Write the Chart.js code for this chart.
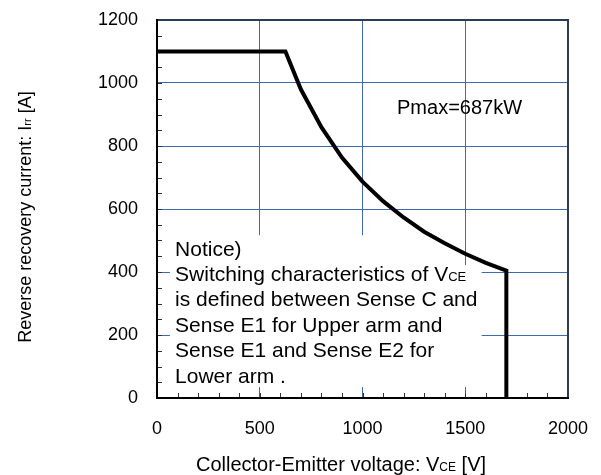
<!DOCTYPE html>
<html>
<head>
<meta charset="utf-8">
<script src="https://cdn.jsdelivr.net/npm/chart.js@4.4.1/dist/chart.umd.min.js"></script>
<style>
  html, body { margin: 0; padding: 0; background: #fff; }
  #wrap { width: 601px; height: 475px; }
</style>
</head>
<body>
<div id="wrap"><canvas id="soaChart"></canvas></div>
<script>
// RRSOA curve
const voltage = [0, 625, 700, 800, 900, 1000, 1100, 1200, 1300, 1400, 1500, 1600, 1700, 1700];
const current = [1100, 1100, 980, 860, 763, 687, 625, 573, 528, 491, 458, 429, 404, 0];

const xTicks = [0, 500, 1000, 1500, 2000];
const yTicks = [0, 200, 400, 600, 800, 1000, 1200];

const pmaxLabel = 'Pmax=687kW';
// each line is a list of [text, isSubscript]
const noticeLines = [
    [['Notice)', false]],
    [['Switching characteristics of V', false], ['CE', true]],
    [['is defined between Sense C and', false]],
    [['Sense E1 for Upper arm and', false]],
    [['Sense E1 and Sense E2 for', false]],
    [['Lower arm .', false]]
];
const xTitle = [['Collector-Emitter voltage: V', false], ['CE', true], [' [V]', false]];
const yTitle = [['Reverse recovery current: I', false], ['rr', true], [' [A]', false]];

const FONT = "'Liberation Sans', Arial, sans-serif";
const GRID_BLUE = '#4169b0';

function drawRich(ctx, parts, x, y, size, align) {
    // draws text with small subscript parts, y is the baseline
    var subSize = Math.round(size * 0.62);
    var widths = parts.map(function(p) {
        ctx.font = (p[1] ? subSize : size) + 'px ' + FONT;
        return ctx.measureText(p[0]).width;
    });
    var total = widths.reduce(function(a, b) { return a + b; }, 0);
    var cx = align === 'center' ? x - total / 2 : x;
    ctx.textBaseline = 'alphabetic';
    ctx.textAlign = 'left';
    parts.forEach(function(p, i) {
        ctx.font = (p[1] ? subSize : size) + 'px ' + FONT;
        ctx.fillText(p[0], cx, y);
        cx += widths[i];
    });
}

const decorPlugin = {
    id: 'decor',
    beforeDatasetsDraw(chart) {
        const ctx = chart.ctx;
        const xs = chart.scales.x, ys = chart.scales.y;
        const a = chart.chartArea;
        ctx.save();
        // white background of the notice text box hides the grid
        ctx.fillStyle = '#ffffff';
        var boxes = [[63, 1474, 35, 517], [63, 1580, 35, 422]];
        boxes.forEach(function(b) {
            var l = xs.getPixelForValue(b[0]), r = xs.getPixelForValue(b[1]);
            var t = ys.getPixelForValue(b[3]), btm = ys.getPixelForValue(b[2]);
            ctx.fillRect(l, t, r - l, btm - t);
        });
        // inward minor ticks
        ctx.strokeStyle = '#333333';
        ctx.lineWidth = 1;
        ctx.beginPath();
        for (var v = 50; v < 1200; v += 50) {
            var py = Math.round(ys.getPixelForValue(v)) + 0.5;
            ctx.moveTo(a.left, py);
            ctx.lineTo(a.left + 5, py);
        }
        for (var u = 100; u < 2000; u += 100) {
            var px = Math.round(xs.getPixelForValue(u)) + 0.5;
            ctx.moveTo(px, a.bottom);
            ctx.lineTo(px, a.bottom - 5);
        }
        ctx.stroke();
        // frame
        ctx.lineWidth = 2;
        ctx.strokeStyle = '#2d3b57';
        ctx.beginPath();
        ctx.moveTo(a.left, a.top);
        ctx.lineTo(a.right, a.top);
        ctx.lineTo(a.right, a.bottom);
        ctx.stroke();
        ctx.strokeStyle = '#000000';
        ctx.beginPath();
        ctx.moveTo(a.left, a.top - 1);
        ctx.lineTo(a.left, a.bottom);
        ctx.lineTo(a.right + 1, a.bottom);
        ctx.stroke();
        ctx.restore();
    },
    afterDraw(chart) {
        const ctx = chart.ctx;
        const xs = chart.scales.x, ys = chart.scales.y;
        ctx.save();
        ctx.fillStyle = '#000000';
        // Pmax label
        drawRich(ctx, [[pmaxLabel, false]], xs.getPixelForValue(1168), ys.getPixelForValue(924) + 7, 20, 'left');
        // notice lines
        var nx = xs.getPixelForValue(88);
        var ny = ys.getPixelForValue(476) + 7.5;
        noticeLines.forEach(function(line, i) {
            drawRich(ctx, line, nx, ny + i * 25.4, 21, 'left');
        });
        // axis titles
        drawRich(ctx, xTitle, 341, 471, 20, 'center');
        ctx.translate(31, 217);
        ctx.rotate(-Math.PI / 2);
        drawRich(ctx, yTitle, 0, 0, 18, 'center');
        ctx.restore();
    }
};

window.onload = function() {
    const ctx = document.getElementById('soaChart').getContext('2d');
    new Chart(ctx, {
        type: 'scatter',
        data: {
            datasets: [{
                data: voltage.map(function(v, i) { return { x: v, y: current[i] }; }),
                showLine: true,
                borderColor: '#000000',
                borderWidth: 4,
                borderJoinStyle: 'miter',
                pointRadius: 0,
                tension: 0,
                clip: false
            }]
        },
        options: {
            responsive: true,
            maintainAspectRatio: false,
            animation: false,
            devicePixelRatio: 1,
            layout: { padding: { left: 0, top: 20, right: 33, bottom: 0 } },
            plugins: {
                legend: { display: false },
                tooltip: { enabled: false }
            },
            scales: {
                x: {
                    type: 'linear',
                    min: 0,
                    max: 2000,
                    afterBuildTicks: function(scale) { scale.ticks = xTicks.map(function(v) { return { value: v }; }); },
                    afterFit: function(scale) {
                        scale.height = 77;
                        scale.paddingLeft = 0;
                        scale.paddingRight = 0;
                    },
                    border: { display: false },
                    grid: { color: GRID_BLUE, lineWidth: 1, drawTicks: false },
                    ticks: { color: '#000', font: { family: FONT, size: 18 }, padding: 20, maxRotation: 0,
                             callback: function(v) { return String(v); } }
                },
                y: {
                    type: 'linear',
                    min: 0,
                    max: 1200,
                    afterBuildTicks: function(scale) { scale.ticks = yTicks.map(function(v) { return { value: v }; }); },
                    afterFit: function(scale) {
                        scale.width = 157;
                        scale.paddingTop = 0;
                        scale.paddingBottom = 0;
                    },
                    border: { display: false },
                    grid: { color: GRID_BLUE, lineWidth: 1, drawTicks: false },
                    ticks: { color: '#000', font: { family: FONT, size: 18 }, padding: 19,
                             callback: function(v) { return String(v); } }
                }
            }
        },
        plugins: [decorPlugin]
    });
};
</script>
</body>
</html>
